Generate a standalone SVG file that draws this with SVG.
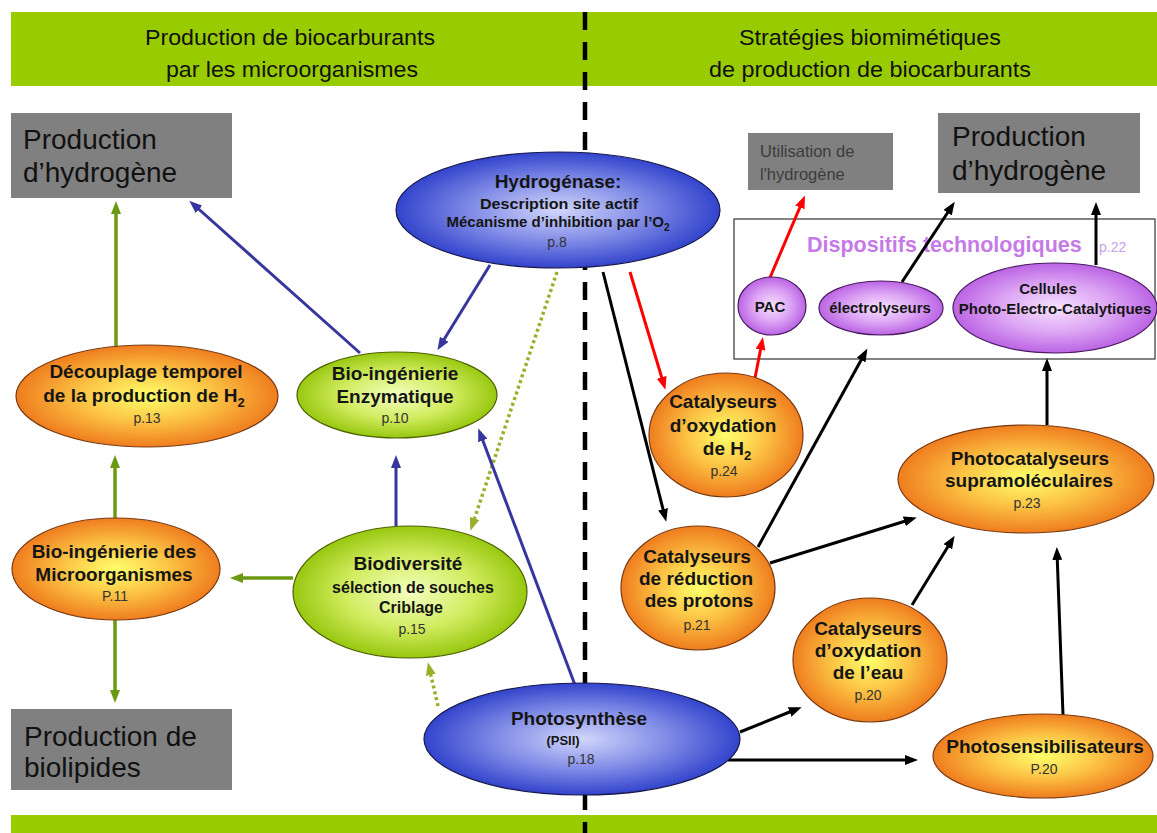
<svg xmlns="http://www.w3.org/2000/svg" width="1157" height="833" viewBox="0 0 1157 833">
<defs>
<style>
text{font-family:"Liberation Sans",Arial,sans-serif;}
.hd{font-size:22px;fill:#111;text-anchor:middle;}
.box{fill:#808080;}
.bt{font-size:28px;fill:#111;}
.lb{font-size:19px;font-weight:bold;fill:#151515;text-anchor:middle;}
.lbs{font-size:16px;font-weight:bold;fill:#151515;text-anchor:middle;}
.pg{font-size:14px;fill:#333;text-anchor:middle;}
.pt{font-size:15px;font-weight:bold;fill:#151515;text-anchor:middle;}
.el{stroke-width:1.2;}
.or{fill:url(#gOr);stroke:#7a3a10;}
.gr{fill:url(#gGr);stroke:#4d6000;}
.bl{fill:url(#gBl);stroke:#18184a;}
.pu{fill:url(#gPu);stroke:#4a1a60;}
.k{stroke:#000;stroke-width:3;fill:none;marker-end:url(#mK);}
.b{stroke:#36369e;stroke-width:3;fill:none;marker-end:url(#mB);}
.g{stroke:#6b9a12;stroke-width:3.5;fill:none;marker-end:url(#mG);}
.d{stroke:#9aae2a;stroke-width:3.5;stroke-dasharray:3 3;fill:none;marker-end:url(#mD);}
.r{stroke:#ff0000;stroke-width:3;fill:none;marker-end:url(#mR);}
</style>
<radialGradient id="gOr" cx="0.5" cy="0.5" r="0.5"><stop offset="0" stop-color="#ffff6a"/><stop offset="0.5" stop-color="#fcc445"/><stop offset="1" stop-color="#ef7d1e"/></radialGradient>
<radialGradient id="gGr" cx="0.5" cy="0.5" r="0.5"><stop offset="0" stop-color="#f4ffc0"/><stop offset="0.55" stop-color="#d2ec60"/><stop offset="1" stop-color="#98c810"/></radialGradient>
<radialGradient id="gBl" cx="0.5" cy="0.5" r="0.5"><stop offset="0" stop-color="#d2d6fb"/><stop offset="0.55" stop-color="#7f8ae6"/><stop offset="1" stop-color="#3244cc"/></radialGradient>
<radialGradient id="gPu" cx="0.5" cy="0.5" r="0.5"><stop offset="0" stop-color="#f6e2ff"/><stop offset="0.55" stop-color="#dca4f4"/><stop offset="1" stop-color="#bb64e4"/></radialGradient>
<marker id="mK" markerUnits="userSpaceOnUse" markerWidth="13" markerHeight="10" refX="8" refY="5" orient="auto"><path d="M0,0 L13,5 L0,10 z" fill="#000"/></marker>
<marker id="mB" markerUnits="userSpaceOnUse" markerWidth="13" markerHeight="10" refX="8" refY="5" orient="auto"><path d="M0,0 L13,5 L0,10 z" fill="#36369e"/></marker>
<marker id="mG" markerUnits="userSpaceOnUse" markerWidth="13" markerHeight="10" refX="8" refY="5" orient="auto"><path d="M0,0 L13,5 L0,10 z" fill="#6b9a12"/></marker>
<marker id="mD" markerUnits="userSpaceOnUse" markerWidth="13" markerHeight="10" refX="8" refY="5" orient="auto"><path d="M0,0 L13,5 L0,10 z" fill="#9aae2a"/></marker>
<marker id="mR" markerUnits="userSpaceOnUse" markerWidth="13" markerHeight="10" refX="8" refY="5" orient="auto"><path d="M0,0 L13,5 L0,10 z" fill="#ff0000"/></marker>
</defs>
<rect width="1157" height="833" fill="#fff"/>
<g id="bands">
<rect x="11" y="12" width="1146" height="74" fill="#99cc00"/>
<rect x="11" y="815" width="1146" height="18" fill="#99cc00"/>
<text class="hd" x="290" y="45" textLength="290" lengthAdjust="spacingAndGlyphs">Production de biocarburants</text>
<text class="hd" x="292" y="77" textLength="252" lengthAdjust="spacingAndGlyphs">par les microorganismes</text>
<text class="hd" x="870" y="45" textLength="262" lengthAdjust="spacingAndGlyphs">Stratégies biomimétiques</text>
<text class="hd" x="870" y="77" textLength="322" lengthAdjust="spacingAndGlyphs">de production de biocarburants</text>
</g>
<line id="separator" x1="585" y1="12" x2="585" y2="833" stroke="#000" stroke-width="4.5" stroke-dasharray="18 12"/>
<g id="box-prod-h2-left"><rect class="box" x="11" y="113" width="221" height="85"/><text class="bt" x="23" y="149">Production</text><text class="bt" x="23" y="182">d’hydrogène</text></g>
<g id="box-prod-biolipides"><rect class="box" x="11" y="709" width="221" height="81"/><text class="bt" x="24" y="746">Production de</text><text class="bt" x="24" y="777">biolipides</text></g>
<g id="box-utilisation"><rect class="box" x="748" y="133" width="145" height="57"/><text x="760" y="157" font-size="16.5" fill="#3c3c3c">Utilisation de</text><text x="760" y="180" font-size="16.5" fill="#3c3c3c">l'hydrogène</text></g>
<g id="box-prod-h2-right"><rect class="box" x="938" y="113" width="202" height="80"/><text class="bt" x="952" y="146">Production</text><text class="bt" x="952" y="180">d’hydrogène</text></g>
<g id="dispositifs"><rect x="734" y="219" width="421" height="140" fill="#fff" stroke="#333" stroke-width="1.2"/><text x="807" y="252" font-size="21.5" font-weight="bold" fill="#c57ae8">Dispositifs technologiques</text><text x="1099" y="252" font-size="14" fill="#c9a0ea">p.22</text></g>
<g id="connectors">
<line class="k" x1="603" y1="272" x2="665" y2="517"/>
<line class="r" x1="630" y1="272" x2="664" y2="385"/>
<line class="d" x1="557" y1="272" x2="472" y2="526"/>
<line class="b" x1="490" y1="265" x2="440" y2="346"/>
<line class="b" x1="360" y1="353" x2="193" y2="204"/>
<line class="g" x1="116" y1="347" x2="116" y2="206"/>
<line class="g" x1="115" y1="518" x2="115" y2="460"/>
<line class="g" x1="115" y1="620" x2="115" y2="698"/>
<line class="g" x1="293" y1="578" x2="235" y2="578"/>
<line class="b" x1="396" y1="526" x2="396" y2="460"/>
<line class="b" x1="575" y1="685" x2="480" y2="433"/>
<line class="d" x1="438" y1="706" x2="429" y2="667"/>
<line class="r" x1="755" y1="378" x2="762" y2="342"/>
<line class="r" x1="769" y1="280" x2="803" y2="200"/>
<line class="k" x1="902" y1="282" x2="952" y2="206"/>
<line class="k" x1="1096" y1="265" x2="1096" y2="207"/>
<line class="k" x1="758" y1="547" x2="865" y2="353"/>
<line class="k" x1="770" y1="563" x2="912" y2="519"/>
<line class="k" x1="912" y1="605" x2="952" y2="540"/>
<line class="k" x1="740" y1="732" x2="797" y2="709"/>
<line class="k" x1="728" y1="760" x2="913" y2="760"/>
<line class="k" x1="1063" y1="715" x2="1057" y2="552"/>
<line class="k" x1="1047" y1="425" x2="1047" y2="363"/>
</g>
<g id="hydrogenase"><ellipse class="el bl" cx="558" cy="210" rx="162" ry="58"/>
<text class="lb" x="558" y="188" font-size="18.5">Hydrogénase:</text>
<text class="pt" x="559" y="209" textLength="158" lengthAdjust="spacingAndGlyphs">Description site actif</text>
<text class="pt" x="558" y="227">Mécanisme d’inhibition par l’O<tspan font-size="10" dy="4">2</tspan></text>
<text class="pg" x="557" y="247" fill="#222">p.8</text></g>
<g id="bio-ing-enzymatique"><ellipse class="el gr" cx="397" cy="395" rx="100" ry="43"/>
<text class="lb" x="395" y="380">Bio-ingénierie</text><text class="lb" x="395" y="403">Enzymatique</text><text class="pg" x="395" y="423">p.10</text></g>
<g id="decouplage"><ellipse class="el or" cx="147" cy="396" rx="131" ry="51"/>
<text class="lb" x="146" y="378">Découplage temporel</text><text class="lb" x="144" y="402">de la production de H<tspan font-size="13" dy="5">2</tspan></text><text class="pg" x="147" y="423">p.13</text></g>
<g id="bio-ing-microorganismes"><ellipse class="el or" cx="116" cy="569" rx="104" ry="51"/>
<text class="lb" x="114" y="558">Bio-ingénierie des</text><text class="lb" x="114" y="581">Microorganismes</text><text class="pg" x="115" y="601">P.11</text></g>
<g id="biodiversite"><ellipse class="el gr" cx="410" cy="592" rx="117" ry="66"/>
<text class="lb" x="408" y="570">Biodiversité</text><text class="lbs" x="413" y="593">sélection de souches</text><text class="lbs" x="411" y="613">Criblage</text><text class="pg" x="412" y="634">p.15</text></g>
<g id="photosynthese"><ellipse class="el bl" cx="582" cy="739" rx="158" ry="56"/>
<text class="lb" x="579" y="725">Photosynthèse</text><text x="563" y="745" font-size="13" font-weight="bold" fill="#151515" text-anchor="middle">(PSII)</text><text class="pg" x="581" y="764" fill="#222">p.18</text></g>
<g id="cat-oxydation-h2"><ellipse class="el or" cx="726" cy="435" rx="77" ry="62"/>
<text class="lb" x="723" y="408">Catalyseurs</text><text class="lb" x="723" y="432">d’oxydation</text><text class="lb" x="727" y="455">de H<tspan font-size="13" dy="5">2</tspan></text><text class="pg" x="724" y="476">p.24</text></g>
<g id="cat-reduction-protons"><ellipse class="el or" cx="698" cy="588" rx="77" ry="62"/>
<text class="lb" x="697" y="563">Catalyseurs</text><text class="lb" x="696" y="585">de réduction</text><text class="lb" x="699" y="607">des protons</text><text class="pg" x="697" y="630">p.21</text></g>
<g id="cat-oxydation-eau"><ellipse class="el or" cx="870" cy="660" rx="77" ry="62"/>
<text class="lb" x="868" y="635">Catalyseurs</text><text class="lb" x="868" y="657">d’oxydation</text><text class="lb" x="868" y="679">de l’eau</text><text class="pg" x="868" y="700">p.20</text></g>
<g id="photocatalyseurs"><ellipse class="el or" cx="1026" cy="479" rx="128" ry="54"/>
<text class="lb" x="1030" y="465">Photocatalyseurs</text><text class="lb" x="1029" y="487">supramoléculaires</text><text class="pg" x="1027" y="508">p.23</text></g>
<g id="photosensibilisateurs"><ellipse class="el or" cx="1043" cy="756" rx="110" ry="42"/>
<text class="lb" x="1045" y="753">Photosensibilisateurs</text><text class="pg" x="1044" y="774">P.20</text></g>
<g id="pac"><ellipse class="el pu" cx="772" cy="306" rx="34" ry="29"/><text class="pt" x="770" y="312">PAC</text></g>
<g id="electrolyseurs"><ellipse class="el pu" cx="881" cy="308" rx="62" ry="27"/><text class="pt" x="880" y="313">électrolyseurs</text></g>
<g id="cellules"><ellipse class="el pu" cx="1055" cy="308" rx="102" ry="45"/><text class="pt" x="1048" y="294">Cellules</text><text class="pt" x="1055" y="314">Photo-Electro-Catalytiques</text></g>
</svg>
